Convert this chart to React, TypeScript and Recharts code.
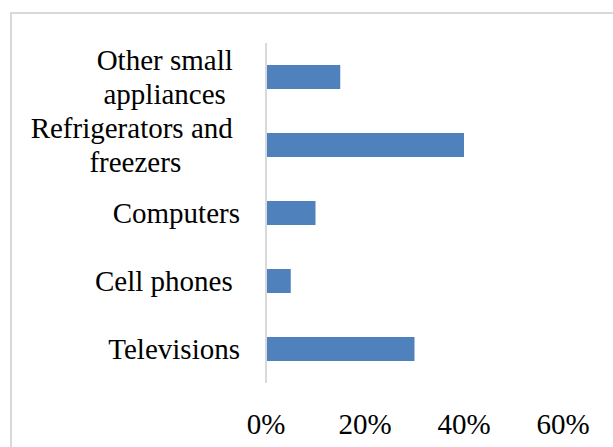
import React from 'react';
import { BarChart, Bar, XAxis, YAxis } from 'recharts';

// Share of devices (top to bottom as drawn)
const categories = ['Other small appliances', 'Refrigerators and freezers', 'Computers', 'Cell phones', 'Televisions'];
const shares = [0.15, 0.40, 0.10, 0.05, 0.30];
// how Excel wrapped the labels (trailing spaces kept)
const categoryLines: Record<string, string[]> = {
  'Other small appliances': ['Other small ', 'appliances '],
  'Refrigerators and freezers': ['Refrigerators and ', 'freezers'],
  'Cell phones': ['Cell phones '],
};
const xTicks = [0, 0.2, 0.4, 0.6];

const FONT = '"Liberation Serif", "Times New Roman", serif';
const FONT_SIZE = 29;

const data = categories.map((name, i) => ({ name, value: shares[i] }));

const css = `
#root .serif-txt, #root .serif-txt * {
  font-family: "Liberation Serif", "Times New Roman", serif !important;
  font-size: ${FONT_SIZE}px !important;
}
`;

// force the serif face even if something else sets the font
const forceFont = (el: HTMLElement | null) => {
  if (el) {
    el.style.setProperty('font-family', FONT, 'important');
    el.style.setProperty('font-size', `${FONT_SIZE}px`, 'important');
  }
};

const textStyle: React.CSSProperties = {
  fontFamily: FONT, fontSize: FONT_SIZE, color: '#000', whiteSpace: 'pre', margin: 0,
};

const CategoryTick = ({ x, y, payload }: any) => {
  const lines = categoryLines[payload.value] || [payload.value];
  const right = x - 18;
  return (
    <foreignObject x={right - 260} y={y - 45} width={260} height={90}>
      <div style={{ display: 'flex', height: 90, alignItems: 'center', justifyContent: 'flex-end' }}>
        <div className="serif-txt" ref={forceFont} style={{ ...textStyle, textAlign: 'center', lineHeight: '34px' }}>
          {lines.map((l, i) => <div key={i} ref={forceFont}>{l}</div>)}
        </div>
      </div>
    </foreignObject>
  );
};

const PercentTick = ({ x, y, payload }: any) => (
  <foreignObject x={x - 50} y={y - 5} width={100} height={40}>
    <div className="serif-txt" ref={forceFont} style={{ ...textStyle, textAlign: 'center', lineHeight: '40px' }}>
      {`${Math.round(payload.value * 100)}%`}
    </div>
  </foreignObject>
);

export default function App() {
  return (
    <div style={{ position: 'fixed', left: 0, top: 0, width: 613, height: 447, overflow: 'hidden', background: '#fff' }}>
      <style>{css}</style>
      <div style={{ position: 'absolute', left: 10, top: 12, width: 700, height: 600, border: '2px solid #d9d9d9' }} />
      <div style={{ position: 'absolute', left: 0, top: 0 }}>
        <BarChart width={613} height={447} data={data} layout="vertical"
          margin={{ top: 43, right: 50, bottom: 0, left: 0 }} barCategoryGap={22}>
          <XAxis type="number" domain={[0, 0.6]} ticks={xTicks} axisLine={false} tickLine={false}
            height={64} tickMargin={20} tick={<PercentTick />} />
          <YAxis type="category" dataKey="name" width={266} axisLine={{ stroke: '#d9d9d9', strokeWidth: 2 }}
            tickLine={false} tick={<CategoryTick />} interval={0} />
          <Bar dataKey="value" fill="#4f81bd" barSize={24} isAnimationActive={false} />
        </BarChart>
      </div>
    </div>
  );
}
